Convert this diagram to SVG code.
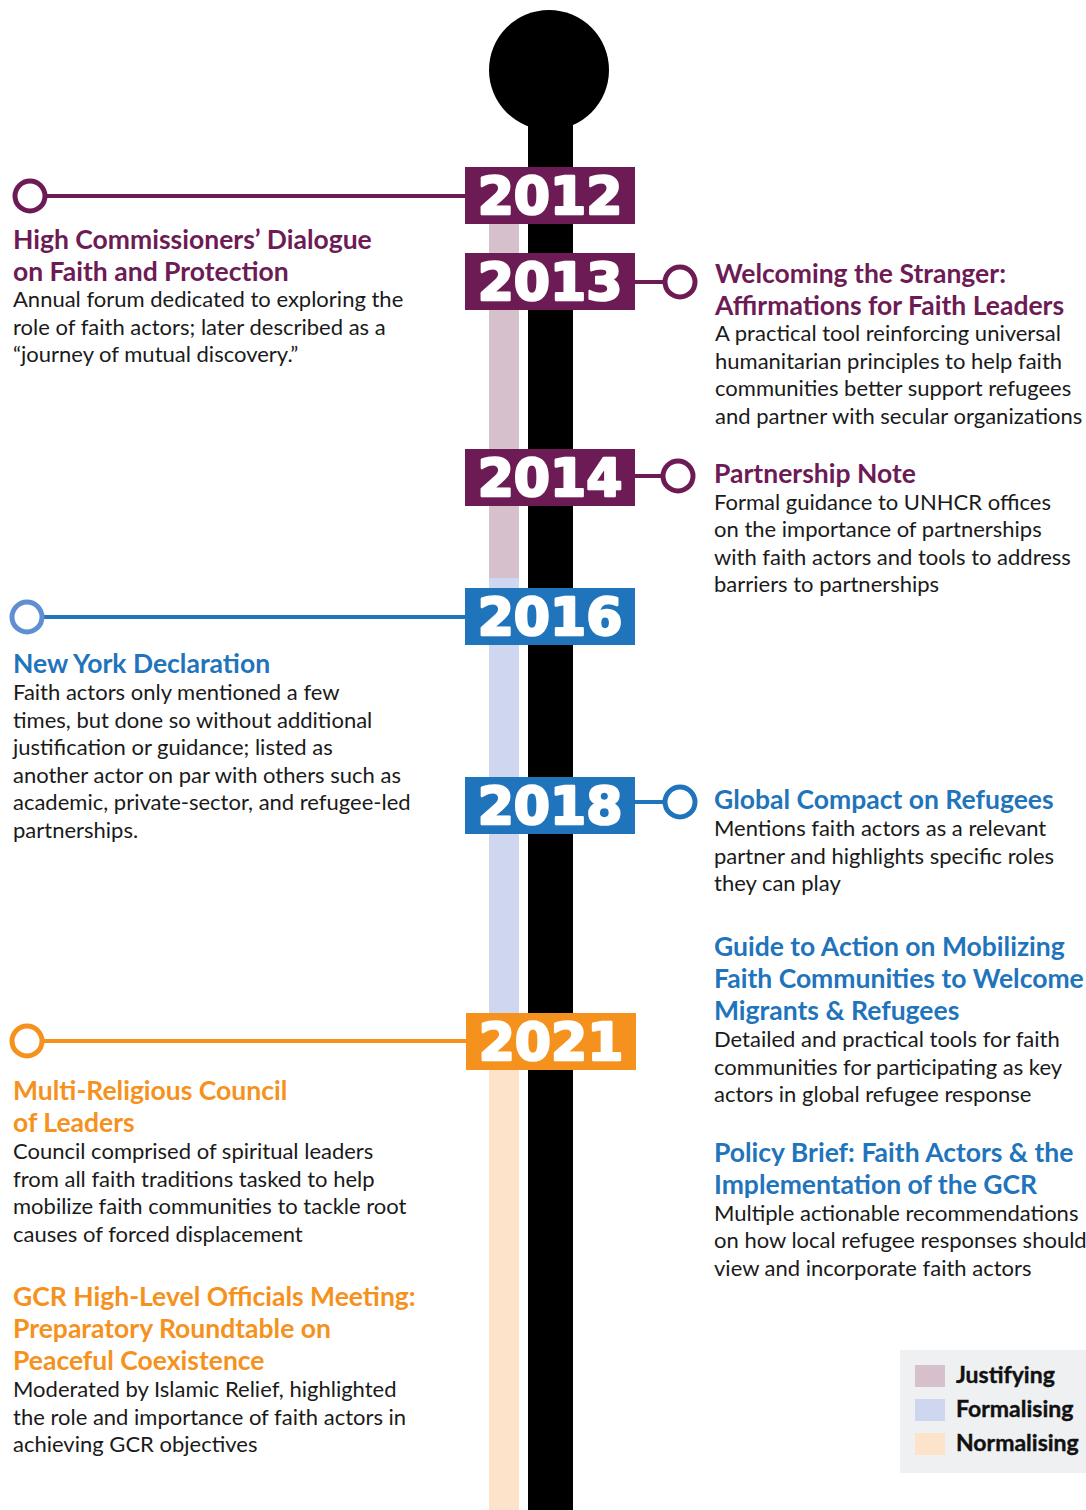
<svg xmlns="http://www.w3.org/2000/svg" width="1086" height="1510" viewBox="0 0 1086 1510">
  <style>
    .title { font-family: Lato, "Open Sans", sans-serif; font-weight: 700; font-size: 26.5px; }
    .body { font-family: Lato, "Open Sans", sans-serif; font-size: 22px; fill: #1a1a1a; }
    .year { font-family: "DejaVu Sans", sans-serif; font-weight: 700; font-size: 52px; fill: #ffffff; stroke: #ffffff; stroke-width: 2.5; stroke-linejoin: round; text-anchor: middle; }
    .legend { font-family: Lato, "Open Sans", sans-serif; font-weight: 700; font-size: 23px; fill: #111111; stroke: #111111; stroke-width: 0.4; }
    .purple { fill: #6d1b55; }
    .blue { fill: #1f74bb; }
    .orange { fill: #f5921e; }
    .ring { fill: #ffffff; stroke-width: 5; }
    .link { stroke-width: 4; fill: none; }
  </style>

  <rect width="1086" height="1510" fill="#ffffff"/>

  <!-- phase bands beside the spine -->
  <g id="phase-bands">
    <rect x="489" y="224" width="30" height="354" fill="#d6c0cb"/>
    <rect x="489" y="578" width="30" height="436" fill="#cfd6ef"/>
    <rect x="489" y="1069" width="30" height="441" fill="#fde3c9"/>
  </g>

  <!-- spine -->
  <g id="spine">
    <circle cx="549" cy="70" r="60" fill="#000000"/>
    <rect x="528" y="100" width="45" height="1410" fill="#000000"/>
  </g>

  <!-- connectors from year markers to entries -->
  <g id="connectors">
    <line class="link" x1="46" y1="196" x2="466" y2="196" stroke="#6d1b55"/>
    <circle class="ring" cx="30" cy="196" r="15" stroke="#6d1b55"/>

    <line class="link" x1="634" y1="282" x2="666" y2="282" stroke="#6d1b55"/>
    <circle class="ring" cx="680" cy="282" r="15" stroke="#6d1b55"/>

    <line class="link" x1="634" y1="476" x2="664" y2="476" stroke="#6d1b55"/>
    <circle class="ring" cx="678" cy="476" r="15" stroke="#6d1b55"/>

    <line class="link" x1="43" y1="617" x2="466" y2="617" stroke="#1f74bb"/>
    <circle class="ring" cx="27" cy="617" r="15" stroke="#5f8fd2"/>

    <line class="link" x1="634" y1="802" x2="666" y2="802" stroke="#1f74bb"/>
    <circle class="ring" cx="680" cy="802" r="15" stroke="#1f74bb"/>

    <line class="link" x1="43" y1="1041" x2="466" y2="1041" stroke="#f5921e"/>
    <circle class="ring" cx="27" cy="1041" r="15" stroke="#f5921e"/>
  </g>

  <!-- year markers -->
  <g id="year-2012">
    <rect x="465" y="167" width="170" height="57" class="purple"/>
    <text x="550" y="214" class="year">2012</text>
  </g>
  <g id="year-2013">
    <rect x="465" y="253" width="170" height="57" class="purple"/>
    <text x="550" y="300" class="year">2013</text>
  </g>
  <g id="year-2014">
    <rect x="465" y="449" width="170" height="57" class="purple"/>
    <text x="550" y="496" class="year">2014</text>
  </g>
  <g id="year-2016">
    <rect x="465" y="588" width="170" height="57" class="blue"/>
    <text x="550" y="635" class="year">2016</text>
  </g>
  <g id="year-2018">
    <rect x="465" y="777" width="170" height="57" class="blue"/>
    <text x="550" y="824" class="year">2018</text>
  </g>
  <g id="year-2021">
    <rect x="466" y="1013" width="170" height="57" class="orange"/>
    <text x="551" y="1060" class="year">2021</text>
  </g>

  <!-- entries -->
  <g id="entry-dialogue">
    <text class="title purple" x="13" y="249">High Commissioners’ Dialogue</text>
    <text class="title purple" x="13" y="281">on Faith and Protection</text>
    <text class="body" x="13" y="307">Annual forum dedicated to exploring the</text>
    <text class="body" x="13" y="335">role of faith actors; later described as a</text>
    <text class="body" x="13" y="362">“journey of mutual discovery.”</text>
  </g>

  <g id="entry-stranger">
    <text class="title purple" x="715" y="283">Welcoming the Stranger:</text>
    <text class="title purple" x="715" y="315">Affirmations for Faith Leaders</text>
    <text class="body" x="715" y="341">A practical tool reinforcing universal</text>
    <text class="body" x="715" y="369">humanitarian principles to help faith</text>
    <text class="body" x="715" y="396">communities better support refugees</text>
    <text class="body" x="715" y="424">and partner with secular organizations</text>
  </g>

  <g id="entry-partnership">
    <text class="title purple" x="714" y="483">Partnership Note</text>
    <text class="body" x="714" y="510">Formal guidance to UNHCR offices</text>
    <text class="body" x="714" y="537">on the importance of partnerships</text>
    <text class="body" x="714" y="565">with faith actors and tools to address</text>
    <text class="body" x="714" y="592">barriers to partnerships</text>
  </g>

  <g id="entry-new-york">
    <text class="title blue" x="13" y="673">New York Declaration</text>
    <text class="body" x="13" y="700">Faith actors only mentioned a few</text>
    <text class="body" x="13" y="728">times, but done so without additional</text>
    <text class="body" x="13" y="755">justification or guidance; listed as</text>
    <text class="body" x="13" y="783">another actor on par with others such as</text>
    <text class="body" x="13" y="810">academic, private-sector, and refugee-led</text>
    <text class="body" x="13" y="838">partnerships.</text>
  </g>

  <g id="entry-compact">
    <text class="title blue" x="714" y="809">Global Compact on Refugees</text>
    <text class="body" x="714" y="836">Mentions faith actors as a relevant</text>
    <text class="body" x="714" y="864">partner and highlights specific roles</text>
    <text class="body" x="714" y="891">they can play</text>
  </g>

  <g id="entry-guide">
    <text class="title blue" x="714" y="956">Guide to Action on Mobilizing</text>
    <text class="title blue" x="714" y="988">Faith Communities to Welcome</text>
    <text class="title blue" x="714" y="1020">Migrants &amp; Refugees</text>
    <text class="body" x="714" y="1047">Detailed and practical tools for faith</text>
    <text class="body" x="714" y="1075">communities for participating as key</text>
    <text class="body" x="714" y="1102">actors in global refugee response</text>
  </g>

  <g id="entry-policy-brief">
    <text class="title blue" x="714" y="1162">Policy Brief: Faith Actors &amp; the</text>
    <text class="title blue" x="714" y="1194">Implementation of the GCR</text>
    <text class="body" x="714" y="1221">Multiple actionable recommendations</text>
    <text class="body" x="714" y="1248">on how local refugee responses should</text>
    <text class="body" x="714" y="1276">view and incorporate faith actors</text>
  </g>

  <g id="entry-council">
    <text class="title orange" x="13" y="1100">Multi-Religious Council</text>
    <text class="title orange" x="13" y="1132">of Leaders</text>
    <text class="body" x="13" y="1159">Council comprised of spiritual leaders</text>
    <text class="body" x="13" y="1187">from all faith traditions tasked to help</text>
    <text class="body" x="13" y="1214">mobilize faith communities to tackle root</text>
    <text class="body" x="13" y="1242">causes of forced displacement</text>
  </g>

  <g id="entry-hlom">
    <text class="title orange" x="13" y="1306">GCR High-Level Officials Meeting:</text>
    <text class="title orange" x="13" y="1338">Preparatory Roundtable on</text>
    <text class="title orange" x="13" y="1370">Peaceful Coexistence</text>
    <text class="body" x="13" y="1397">Moderated by Islamic Relief, highlighted</text>
    <text class="body" x="13" y="1425">the role and importance of faith actors in</text>
    <text class="body" x="13" y="1452">achieving GCR objectives</text>
  </g>

  <!-- legend -->
  <g id="legend">
    <rect x="900" y="1350" width="186" height="123" fill="#eff0f1"/>
    <rect x="915" y="1365" width="30" height="22" fill="#d6c0cb"/>
    <text class="legend" x="956" y="1383">Justifying</text>
    <rect x="915" y="1399" width="30" height="22" fill="#cfd6ef"/>
    <text class="legend" x="956" y="1417">Formalising</text>
    <rect x="915" y="1433" width="30" height="22" fill="#fde3c9"/>
    <text class="legend" x="956" y="1451">Normalising</text>
  </g>
</svg>
